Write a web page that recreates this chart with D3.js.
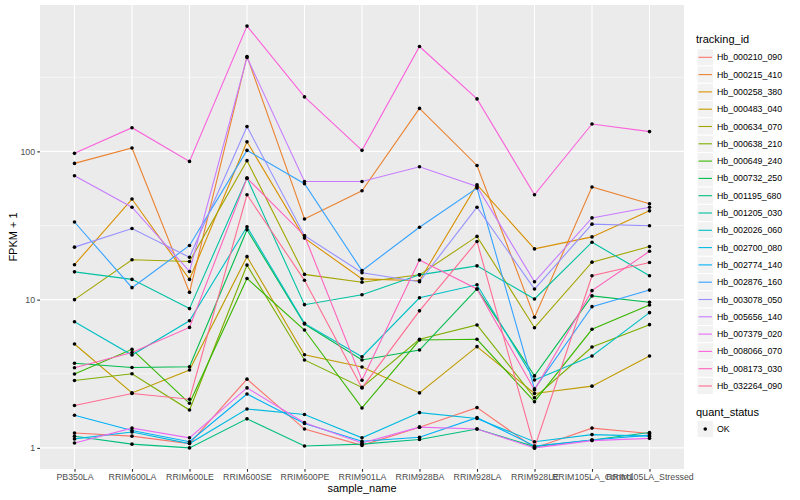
<!DOCTYPE html>
<html>
<head>
<meta charset="utf-8">
<script src="https://cdn.jsdelivr.net/npm/d3@7"></script>
<style>
  body { margin: 0; background: #fff; }
  text { font-family: "Liberation Sans", Arial, sans-serif; }
</style>
</head>
<body>
<div id="chart"></div>
<script>
// sample order on the x axis
const samples = ["PB350LA", "RRIM600LA", "RRIM600LE", "RRIM600SE", "RRIM600PE", "RRIM901LA",
  "RRIM928BA", "RRIM928LA", "RRIM928LE", "RRIM105LA_Control", "RRIM105LA_Stressed"];

const trackingIds = ["Hb_000210_090", "Hb_000215_410", "Hb_000258_380", "Hb_000483_040", "Hb_000634_070",
  "Hb_000638_210", "Hb_000649_240", "Hb_000732_250", "Hb_001195_680", "Hb_001205_030",
  "Hb_002026_060", "Hb_002700_080", "Hb_002774_140", "Hb_002876_160", "Hb_003078_050",
  "Hb_005656_140", "Hb_007379_020", "Hb_008066_070", "Hb_008173_030", "Hb_032264_090"];

// ggplot default hue palette, 20 levels
const colors = ["#F8766D", "#EA8331", "#D89000", "#C09B00", "#A3A500", "#7CAE00", "#39B600", "#00BB4E",
  "#00BF7D", "#00C1A3", "#00BFC4", "#00BAE0", "#00B0F6", "#35A2FF", "#9590FF", "#C77CFF",
  "#E76BF3", "#FA62DB", "#FF62BC", "#FF6C91"];

// FPKM + 1, one array per gene, in sample order
const hb000210_090 = [1.26, 1.20, 1.07, 2.91, 1.34, 1.04, 1.38, 1.87, 1.00, 1.36, 1.25];
const hb000215_410 = [83, 105.5, 11.2, 437, 35, 54.3, 195, 80.4, 7.6, 57.5, 44.3];
const hb000258_380 = [17.2, 47.7, 13.7, 116, 26, 13.8, 13.4, 59.6, 22, 26.5, 39.7];
const hb000483_040 = [5.02, 2.35, 3.35, 19.5, 4.25, 3.51, 2.35, 4.82, 2.33, 2.61, 4.17];
const hb000634_070 = [10, 18.6, 18.1, 86.6, 14.8, 13.1, 14.7, 26.7, 6.47, 17.9, 22.8];
const hb000638_210 = [2.85, 3.16, 1.80, 17.1, 3.92, 2.56, 5.4, 6.75, 2.18, 4.79, 6.78];
const hb000649_240 = [3.15, 4.62, 2.0, 13.9, 6.24, 1.86, 5.34, 5.4, 2.05, 6.31, 9.2];
const hb000732_250 = [3.72, 3.49, 3.53, 29.6, 6.85, 3.92, 4.57, 11.8, 3.06, 10.6, 9.6];
const hb001195_680 = [1.2, 1.06, 1.0, 1.57, 1.03, 1.06, 1.14, 1.34, 1.02, 1.13, 1.27];
const hb001205_030 = [15.4, 13.7, 8.7, 66, 9.25, 10.8, 14.7, 16.9, 10.1, 24.4, 14.5];
const hb002026_060 = [7.1, 4.23, 7.2, 31, 6.92, 4.12, 10.3, 12.6, 2.87, 4.17, 8.17];
const hb002700_080 = [1.15, 1.28, 1.07, 1.83, 1.68, 1.17, 1.73, 1.58, 1.10, 1.23, 1.2];
const hb002774_140 = [1.66, 1.31, 1.1, 2.31, 1.46, 1.11, 1.18, 1.6, 1.03, 1.13, 1.22];
const hb002876_160 = [33.4, 12.05, 23.2, 101.6, 60.5, 15.7, 30.8, 56.6, 2.5, 8.97, 11.6];
const hb003078_050 = [22.6, 30.2, 19.3, 147, 27, 15.2, 13.2, 42, 11.8, 32.3, 31.5];
const hb005656_140 = [68.5, 42, 15.5, 430, 62.7, 62.7, 78.8, 58, 13.2, 35.6, 42];
const hb007379_020 = [1.08, 1.36, 1.17, 2.54, 1.48, 1.08, 1.38, 1.34, 1.0, 1.12, 1.16];
const hb008066_070 = [97, 144.5, 85.6, 700, 233, 101.6, 510, 226, 51, 153, 136];
const hb008173_030 = [3.47, 4.4, 6.5, 66, 27, 2.86, 18.5, 11.8, 2.46, 11.5, 21.2];
const hb032264_090 = [1.93, 2.33, 2.13, 51, 13.5, 2.54, 8.4, 24.7, 1.0, 14.5, 17.8];

const yTicks = [1, 10, 100];

const seriesValues = [hb000210_090, hb000215_410, hb000258_380, hb000483_040, hb000634_070,
  hb000638_210, hb000649_240, hb000732_250, hb001195_680, hb001205_030, hb002026_060,
  hb002700_080, hb002774_140, hb002876_160, hb003078_050, hb005656_140, hb007379_020,
  hb008066_070, hb008173_030, hb032264_090];

const series = trackingIds.map((id, i) => ({
  id: id,
  color: colors[i],
  values: samples.map((s, j) => ({ sample: s, v: seriesValues[i][j] }))
}));

const W = 800, H = 500;
const panel = { left: 40, right: 684, top: 5, bottom: 469 };

const svg = d3.select("#chart").append("svg")
  .attr("width", W)
  .attr("height", H);

const xScale = d3.scalePoint()
  .domain(samples)
  .range([panel.left, panel.right])
  .padding(0.6);

// log scale with ggplot's 5% expansion in log space
const allVals = seriesValues.flat();
const lo = Math.log10(d3.min(allVals)), hi = Math.log10(d3.max(allVals));
const pad = (hi - lo) * 0.05;
const yScale = d3.scaleLog()
  .domain([Math.pow(10, lo - pad), Math.pow(10, hi + pad)])
  .range([panel.bottom, panel.top]);

// panel background
svg.append("rect")
  .attr("x", panel.left).attr("y", panel.top)
  .attr("width", panel.right - panel.left)
  .attr("height", panel.bottom - panel.top)
  .attr("fill", "#EBEBEB");

const grid = svg.append("g");
// minor grid halfway between decades
[Math.pow(10, 0.5), Math.pow(10, 1.5), Math.pow(10, 2.5)].forEach(v => {
  grid.append("line")
    .attr("x1", panel.left).attr("x2", panel.right)
    .attr("y1", yScale(v)).attr("y2", yScale(v))
    .attr("stroke", "#fff").attr("stroke-width", 0.55);
});
yTicks.forEach(v => {
  grid.append("line")
    .attr("x1", panel.left).attr("x2", panel.right)
    .attr("y1", yScale(v)).attr("y2", yScale(v))
    .attr("stroke", "#fff").attr("stroke-width", 1.1);
});
samples.forEach(s => {
  grid.append("line")
    .attr("x1", xScale(s)).attr("x2", xScale(s))
    .attr("y1", panel.top).attr("y2", panel.bottom)
    .attr("stroke", "#fff").attr("stroke-width", 1.1);
});

const line = d3.line()
  .x(d => xScale(d.sample))
  .y(d => yScale(d.v));

svg.append("g").selectAll("path")
  .data(series)
  .enter().append("path")
  .attr("d", d => line(d.values))
  .attr("fill", "none")
  .attr("stroke", d => d.color)
  .attr("stroke-width", 1.1);

svg.append("g").selectAll("g")
  .data(series)
  .enter().append("g")
  .selectAll("circle")
  .data(d => d.values)
  .enter().append("circle")
  .attr("cx", d => xScale(d.sample))
  .attr("cy", d => yScale(d.v))
  .attr("r", 1.8)
  .attr("fill", "#000");

// axes
const yAxis = d3.axisLeft(yScale)
  .tickValues(yTicks)
  .tickFormat(d3.format("d"))
  .tickSize(2.75)
  .tickPadding(2.2);

const gy = svg.append("g")
  .attr("transform", "translate(" + panel.left + ",0)")
  .call(yAxis);

const xAxis = d3.axisBottom(xScale)
  .tickSize(2.75)
  .tickPadding(1.6);

const gx = svg.append("g")
  .attr("transform", "translate(0," + panel.bottom + ")")
  .call(xAxis);

[gx, gy].forEach(g => {
  g.select(".domain").remove();
  g.selectAll(".tick line").attr("stroke", "#333333").attr("stroke-width", 1.1);
  g.selectAll(".tick text")
    .attr("fill", "#4D4D4D")
    .style("font-size", "8.8px")
    .style("font-family", "'Liberation Sans', Arial, sans-serif");
});

svg.append("text")
  .attr("x", (panel.left + panel.right) / 2)
  .attr("y", 492)
  .attr("text-anchor", "middle")
  .style("font-size", "11px")
  .text("sample_name");

svg.append("text")
  .attr("transform", "translate(17," + (panel.top + panel.bottom) / 2 + ") rotate(-90)")
  .attr("text-anchor", "middle")
  .style("font-size", "11px")
  .text("FPKM + 1");

// legend: tracking_id
const legend = svg.append("g");
legend.append("text")
  .attr("x", 696).attr("y", 43)
  .style("font-size", "11px")
  .text("tracking_id");

const rowH = 17.3, firstRow = 57.3;
const rows = legend.selectAll("g.row")
  .data(series)
  .enter().append("g")
  .attr("class", "row")
  .attr("transform", (d, i) => "translate(697," + (firstRow + i * rowH) + ")");

rows.append("rect")
  .attr("x", 0).attr("y", -rowH / 2)
  .attr("width", 16.5).attr("height", rowH)
  .attr("fill", "#F2F2F2")
  .attr("stroke", "#fff")
  .attr("stroke-width", 1);

rows.append("line")
  .attr("x1", 1.5).attr("x2", 15)
  .attr("y1", 0).attr("y2", 0)
  .attr("stroke", d => d.color)
  .attr("stroke-width", 1.1);

rows.append("text")
  .attr("x", 20).attr("y", 0)
  .attr("dy", "0.35em")
  .style("font-size", "8.8px")
  .text(d => d.id);

// legend: quant_status
legend.append("text")
  .attr("x", 696).attr("y", 416)
  .style("font-size", "11px")
  .text("quant_status");

const okRow = legend.append("g")
  .attr("transform", "translate(697,429)");
okRow.append("rect")
  .attr("x", 0).attr("y", -rowH / 2)
  .attr("width", 16.5).attr("height", rowH)
  .attr("fill", "#F2F2F2")
  .attr("stroke", "#fff");
okRow.append("circle")
  .attr("cx", 8.25).attr("cy", 0).attr("r", 1.8).attr("fill", "#000");
okRow.append("text")
  .attr("x", 20).attr("y", 0)
  .attr("dy", "0.35em")
  .style("font-size", "8.8px")
  .text("OK");
</script>
</body>
</html>
